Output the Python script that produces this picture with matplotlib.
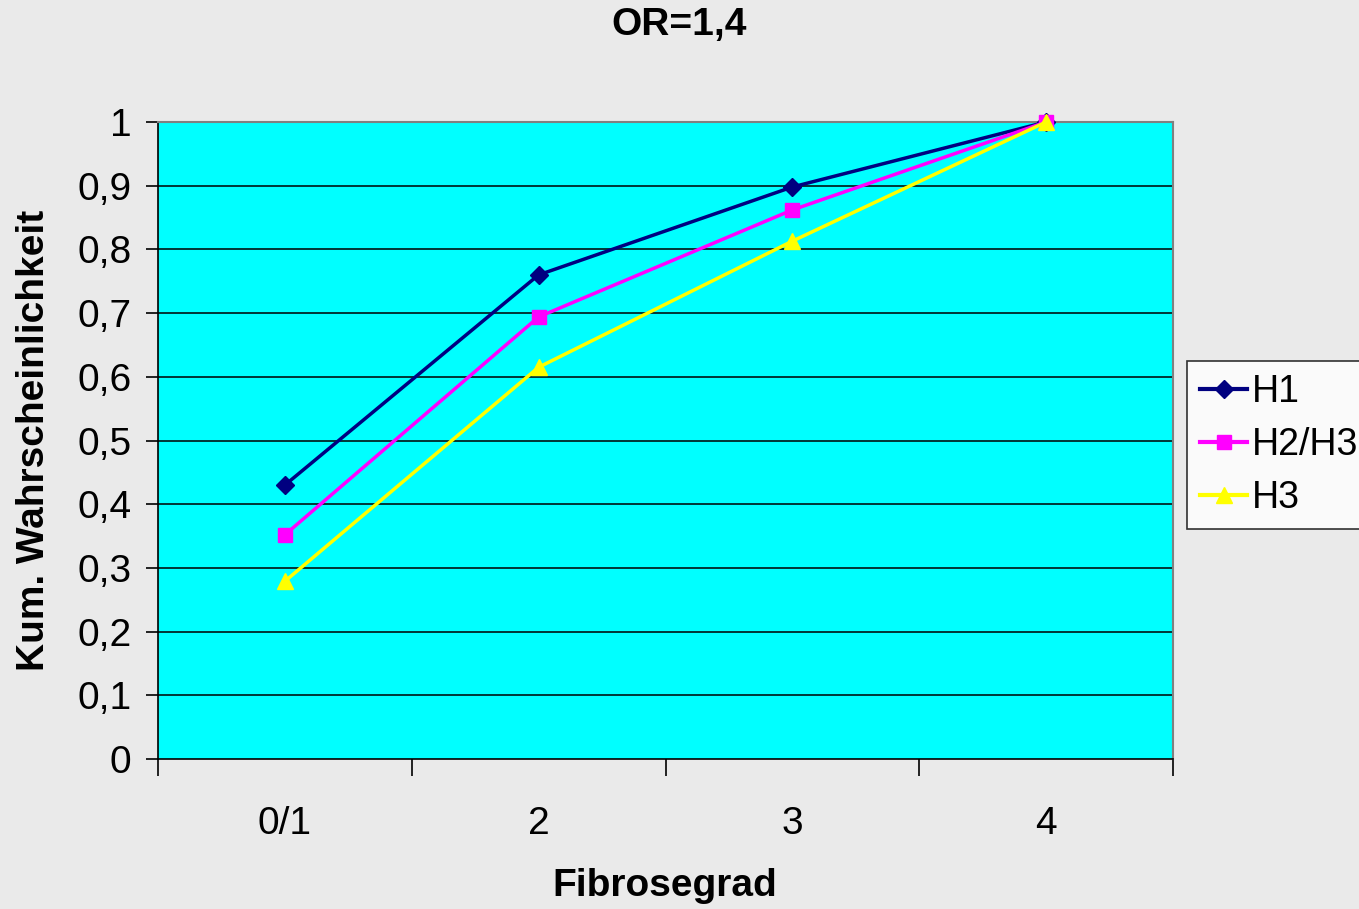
import matplotlib.pyplot as plt

plt.rcParams['font.family'] = ['Liberation Sans', 'DejaVu Sans']

categories = ["0/1", "2", "3", "4"]
h1 = [0.43, 0.76, 0.898, 1.0]
h2h3 = [0.352, 0.694, 0.862, 1.0]
h3 = [0.279, 0.615, 0.813, 1.0]
yticks = [0, 0.1, 0.2, 0.3, 0.4, 0.5, 0.6, 0.7, 0.8, 0.9, 1]
ytick_labels = ["0", "0,1", "0,2", "0,3", "0,4", "0,5", "0,6", "0,7", "0,8", "0,9", "1"]

fig = plt.figure(figsize=(13.59, 9.09), dpi=100, facecolor="#EAEAEA")
ax = fig.add_axes([158/1359, 1-759/909, (1173-158)/1359, (759-122)/909])
ax.set_facecolor("#00FFFF")

x = list(range(len(categories)))
ax.plot(x, h1, color="#000080", marker="D", markersize=9, lw=2.5, label="H1", clip_on=False, zorder=3)
ax.plot(x, h2h3, color="#FF00FF", marker="s", markersize=10, lw=2.5, label="H2/H3", clip_on=False, zorder=4)
ax.plot(x, h3, color="#FFFF00", marker="^", markersize=12, lw=2.5, label="H3", clip_on=False, zorder=5)

ax.set_xlim(-0.5, 3.5)
ax.set_ylim(0, 1)
ax.set_yticks(yticks)
ax.set_yticklabels(ytick_labels, fontsize=28)
for yv in yticks[1:-1]:
    ax.axhline(yv, color="black", lw=1.1, zorder=1)

ax.set_xticks([-0.5, 0.5, 1.5, 2.5, 3.5])
ax.set_xticklabels([])
ax.set_xticks(x, minor=True)
ax.set_xticklabels(categories, minor=True, fontsize=28)
ax.tick_params(axis="x", which="major", direction="out", length=12, width=1.2)
ax.tick_params(axis="x", which="minor", length=0, pad=34)
ax.tick_params(axis="y", direction="out", length=9, width=1.2, pad=10)

ax.spines["left"].set_color("black")
ax.spines["bottom"].set_color("black")
ax.spines["left"].set_linewidth(1.2)
ax.spines["bottom"].set_linewidth(1.2)
ax.spines["top"].set_color("#808080")
ax.spines["right"].set_color("#808080")
ax.spines["top"].set_linewidth(1.5)
ax.spines["right"].set_linewidth(1.5)

ax.set_ylabel("Kum. Wahrscheinlichkeit", fontsize=28, fontweight="bold", labelpad=18)
fig.text(665/1359, 1-886/909, "Fibrosegrad", ha="center", va="center", fontsize=28, fontweight="bold")
fig.text(0.5, 1-25/909, "OR=1,4", ha="center", va="center", fontsize=28, fontweight="bold")

leg = fig.legend(loc="upper left", bbox_to_anchor=(1187/1359, 1-361/909), fontsize=27,
                 frameon=True, fancybox=False, edgecolor="black", facecolor="white",
                 handlelength=1.25, handletextpad=0.12, borderpad=0.35, labelspacing=0.45,
                 borderaxespad=0)
leg.get_frame().set_linewidth(1.2)
for line in leg.get_lines():
    line.set_linewidth(3)

fig.savefig("out.png", dpi=100, facecolor=fig.get_facecolor())
